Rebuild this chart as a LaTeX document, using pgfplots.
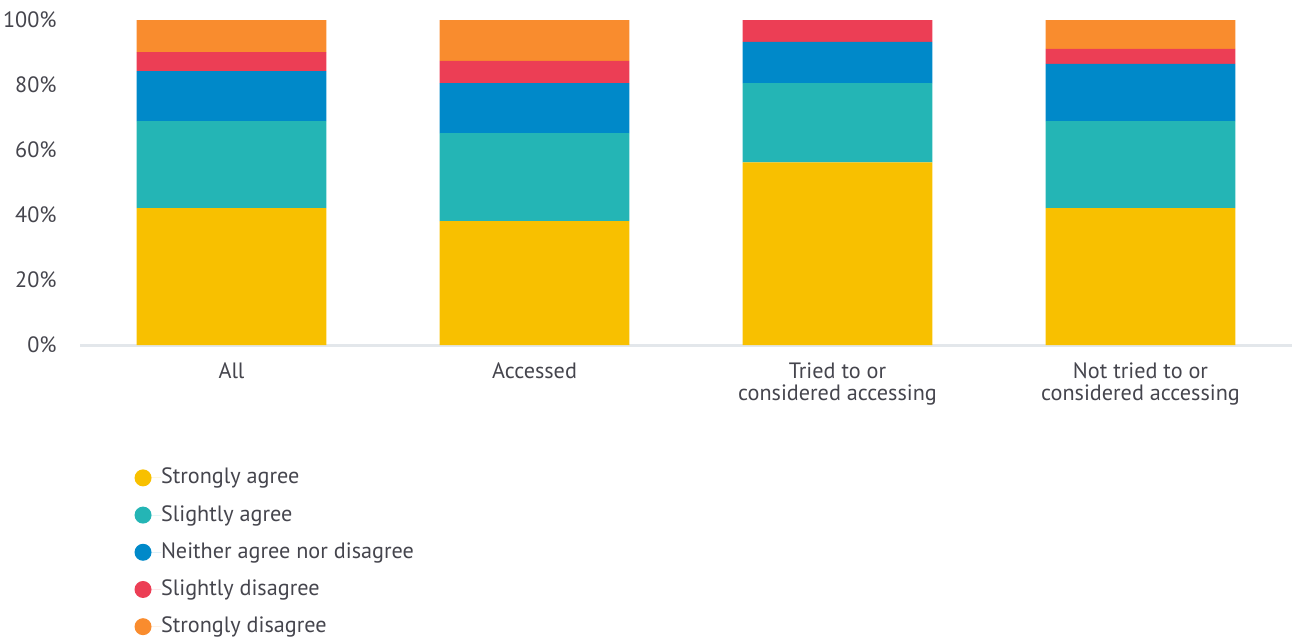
\documentclass[border=0pt]{standalone}
\usepackage{pgfplots}
\usepackage{pgfplotstable}
\pgfplotsset{compat=1.18}
\usepackage{fontspec}
\setmainfont{PT Sans}
\definecolor{cSA}{HTML}{F8C000}
\definecolor{cSlA}{HTML}{24B5B5}
\definecolor{cN}{HTML}{0089C9}
\definecolor{cSlD}{HTML}{EC3E55}
\definecolor{cSD}{HTML}{F98C2E}
\definecolor{axisgray}{HTML}{E3E7EB}
\definecolor{txt}{HTML}{45454D}
\pgfplotstableread{
x SA SlA N SlD SD
0 42.1 26.8 15.4 5.8 9.9
1 38.1 27.1 15.4 6.8 12.6
2 56.2 24.4 12.7 6.7 0
3 42.1 26.8 17.6 4.6 8.9
}\data
\begin{document}
\begin{tikzpicture}
\useasboundingbox (-40pt,-147pt) rectangle (606pt,172.5pt);
\begin{axis}[
  scale only axis,
  width=606pt, height=162.5pt,
  ybar stacked,
  bar width=0.626,
  xmin=-0.5, xmax=3.5,
  ymin=0, ymax=100,
  xtick={0,1,2,3},
  xticklabels={All,Accessed,{Tried to or\\considered accessing},{Not tried to or\\considered accessing}},
  ytick={0,20,40,60,80,100},
  yticklabels={0\%,20\%,40\%,60\%,80\%,100\%},
  major tick length=0pt,
  axis x line*=bottom,
  axis y line*=left,
  y axis line style={draw=none},
  x axis line style={-, draw=axisgray, line width=1.5pt},
  xticklabel style={align=center, font=\fontsize{11.1}{11.2}\selectfont, text=txt, inner sep=0pt, yshift=-8.5pt},
  yticklabel style={font=\fontsize{11.1}{13}\selectfont, text=txt, inner sep=0pt, xshift=-11.5pt},
  legend image code/.code={\fill[#1] (4.25pt,0pt) circle (4.25pt); \path (0pt,0pt) -- (13.25pt,0pt);},
  legend style={at={(0.045,-0.375)}, anchor=north west, draw=none, fill=none, inner sep=0pt, outer sep=0pt,
    row sep=7.6pt,
    nodes={inner sep=0pt, text height=8.5pt, text depth=2.5pt, font=\fontsize{11.1}{13}\selectfont, text=txt}},
  legend cell align=left,
]
\addplot[fill=cSA, draw=none] table[x=x, y=SA] {\data};
\addlegendentry{Strongly agree}
\addplot[fill=cSlA, draw=none] table[x=x, y=SlA] {\data};
\addlegendentry{Slightly agree}
\addplot[fill=cN, draw=none] table[x=x, y=N] {\data};
\addlegendentry{Neither agree nor disagree}
\addplot[fill=cSlD, draw=none] table[x=x, y=SlD] {\data};
\addlegendentry{Slightly disagree}
\addplot[fill=cSD, draw=none] table[x=x, y=SD] {\data};
\addlegendentry{Strongly disagree}
\end{axis}
\end{tikzpicture}
\end{document}
